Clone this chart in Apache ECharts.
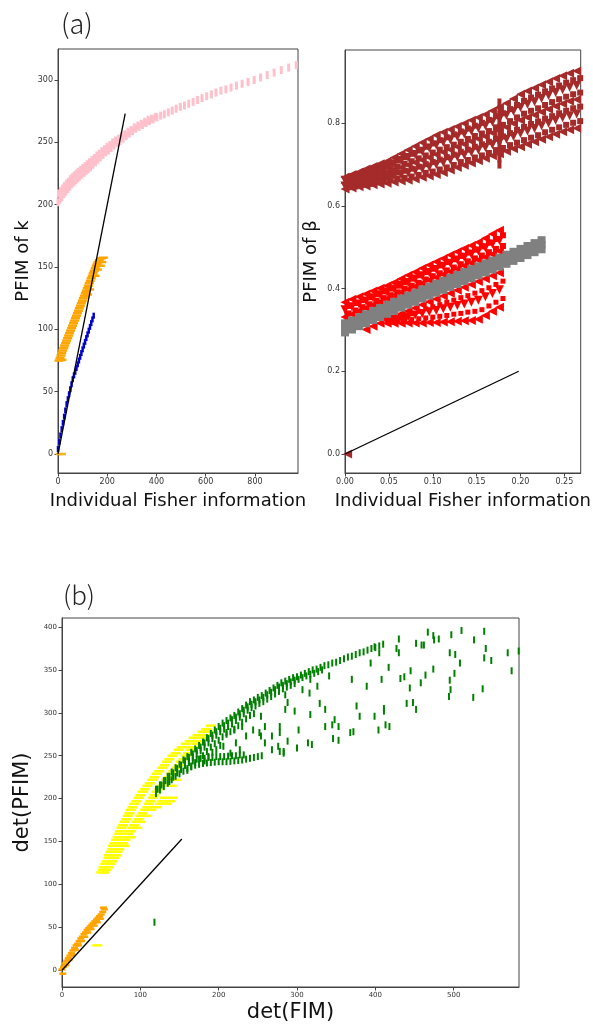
<!DOCTYPE html>
<html><head><meta charset="utf-8">
<script src="https://cdn.jsdelivr.net/npm/echarts@6/dist/echarts.min.js"></script>
<style>html,body{margin:0;padding:0;background:#fff}#c{width:593px;height:1026px}</style>
</head><body><div id="c"></div>
<script>
// ---------- Panel (a) left : PFIM of k ----------
const pinkPts = [[0,202],[8,204],[16,206],[24,208.5],[32,210.5],[40,212.5],[48,214.5],[56,216.5],[64,218],[72,219.5],[80,221],[88,222.5],[96,224],[105,225.5],[114,227],[123,228.5],[132,230],[142,232],[152,234],[162,236],[172,238],[183,240],[194,242],[205,243.5],[216,245.5],[228,247.5],[240,249.5],[252,251],[264,253],[277,255],[290,257],[303,259],[316,261],[330,262.5],[344,264],[358,265.5],[372,267],[387,268.5],[402,270],[417,271.5],[432,272.5],[448,274],[464,275.5],[480,277],[497,278.5],[514,279.5],[531,281],[549,282.5],[567,284],[585,285.5],[604,287],[623,288.5],[642,290],[662,291.5],[682,292.5],[703,294],[725,295.5],[748,297],[772,298.5],[797,300],[823,302],[850,304],[878,306],[907,308],[937,310],[968,312],
[2,209],[10,211],[18,213],[26,215],[34,217],[42,218.5],[50,220.5],[58,222],[66,223.5],[74,225],[82,226.5],[92,228],[101,229.5],[110,231],[119,232.5],[128,234],[138,236],[148,237.5],[158,239.5],[168,241],[178,243],[189,244.5],[200,246.5],[211,248],[222,250],[234,251.5],[246,253],[258,255],[271,256.5],[284,258.5],[297,260],[310,262],[324,263.5],[338,265],[352,266.5],[366,268],[380,269],[395,270.5]];
const orangeKPts = [[4,75],[16,75.5],[8,77],[12,79],[15,81],[19,83],[23,85],[27,87],[31,89],[35,91],[39,93],[43,95],[47,97],[51,99],[55,101],[59,103],[63,105],[67,107],[71,109],[75,111],[79,113],[83,115],[87,117],[91,119],[95,121],[99,123],[103,125],[107,127],[111,129],[115,131],[119,133],[123,135],[127,137],[131,139],[135,141],[139,143],[143,145],[147,147],[151,149],[155,151],[159,152.5],[163,154],[168,155.5],[176,157],[184,157.5],[120,128],[128,132],[150,143],[160,148],[172,151],[178,154]];
const blueX = [0,5,10,15,20,25,30,35,40,45,50,55,60,65,70,75,80,85,90,95,100,105,110,115,120,125,130,135,140,145];
const blueY = [4,10,15,20,25,30,35,40,44,48,52,56,60,63,66,69,72,75,78,81,84,87,90,93,96,99,102,105,108,111];
const goldPts = [[5,0],[18,0]];
const diagK = [[0,0],[273,273]];
const kXTicks = [0,200,400,600,800];
const kYTicks = [0,50,100,150,200,250,300];

// ---------- Panel (a) right : PFIM of beta ----------
const brownX   = [0,.008,.016,.024,.032,.040,.048,.056,.064,.072,.080,.088,.096,.104,.112,.120,.128,.136,.144,.152,.160,.168,.176,.184,.192,.200,.208,.216,.224,.232,.240,.248,.256,.264];
const brownXh  = [.004,.012,.020,.028,.036,.044,.052,.060,.068,.076,.084,.092,.100,.108,.116,.124,.132,.140,.148,.156,.164,.172,.180,.188,.196,.204,.212,.220,.228,.236,.244,.252,.260,.268];
const brownTop = [.669,.676,.682,.689,.695,.702,.708,.717,.726,.735,.744,.753,.762,.771,.778,.785,.792,.799,.807,.814,.821,.830,.838,.848,.859,.870,.878,.885,.893,.900,.908,.915,.921,.926];
const brownTU  = [.666,.672,.678,.684,.690,.696,.702,.710,.718,.726,.734,.743,.751,.759,.766,.773,.780,.787,.794,.801,.808,.817,.824,.834,.844,.854,.862,.869,.877,.884,.891,.898,.904,.909];
const brownUp  = [.662,.668,.673,.679,.684,.690,.695,.702,.710,.717,.724,.732,.740,.747,.754,.760,.767,.774,.781,.788,.794,.803,.810,.819,.829,.838,.846,.852,.860,.867,.874,.881,.887,.891];
const brownUM  = [.659,.664,.669,.674,.679,.684,.689,.695,.702,.708,.715,.722,.729,.736,.742,.748,.755,.762,.769,.775,.781,.790,.796,.805,.814,.823,.830,.836,.844,.851,.858,.864,.870,.874];
const brownMid = [.655,.660,.664,.668,.673,.678,.682,.688,.693,.699,.705,.711,.717,.724,.730,.736,.743,.749,.756,.762,.768,.776,.782,.790,.799,.807,.814,.820,.827,.834,.841,.847,.853,.857];
const brownML  = [.652,.656,.660,.663,.668,.672,.675,.681,.685,.690,.695,.701,.706,.712,.718,.724,.731,.736,.743,.749,.755,.762,.768,.776,.784,.791,.798,.804,.811,.817,.824,.830,.836,.840];
const brownLow = [.648,.651,.655,.658,.662,.665,.668,.673,.676,.680,.685,.690,.694,.700,.705,.711,.718,.723,.730,.735,.741,.748,.754,.761,.768,.775,.781,.787,.794,.800,.807,.813,.818,.822];
const brownLB  = [.645,.647,.651,.653,.657,.659,.662,.666,.668,.671,.675,.680,.683,.688,.693,.699,.706,.711,.717,.722,.728,.735,.740,.747,.753,.759,.765,.771,.778,.784,.790,.796,.801,.805];
const brownBot = [.641,.643,.646,.648,.651,.653,.655,.658,.660,.662,.665,.669,.672,.676,.681,.687,.693,.698,.704,.709,.715,.721,.726,.732,.738,.743,.749,.755,.761,.767,.773,.779,.784,.788];
const brownCross = [[.176,.70],[.176,.715],[.176,.73],[.176,.745],[.176,.76],[.176,.775],[.176,.79],[.176,.805],[.176,.82],[.176,.835],[.176,.85]];
const brownOrigin = [[.003,0]];
const redX  = [0,.008,.016,.024,.032,.040,.048,.056,.064,.072,.080,.088,.096,.104,.112,.120,.128,.136,.144,.152,.160,.168,.176];
const redXh = [.004,.012,.020,.028,.036,.044,.052,.060,.068,.076,.084,.092,.100,.108,.116,.124,.132,.140,.148,.156,.164,.172,.180];
const redU1 = [.367,.374,.380,.387,.394,.401,.407,.415,.424,.432,.440,.449,.457,.465,.473,.481,.489,.497,.504,.512,.522,.532,.541];
const redU12= [.358,.365,.372,.379,.386,.393,.400,.407,.416,.424,.432,.440,.448,.456,.464,.471,.479,.487,.494,.502,.511,.520,.529];
const redU2 = [.349,.356,.363,.370,.378,.385,.392,.399,.408,.415,.423,.431,.439,.446,.454,.461,.469,.476,.483,.491,.499,.508,.516];
const redU23= [.340,.347,.355,.362,.370,.377,.384,.391,.400,.407,.414,.422,.430,.437,.444,.451,.459,.466,.473,.480,.488,.496,.503];
const redU3 = [.331,.338,.346,.353,.361,.368,.376,.383,.391,.398,.405,.413,.420,.427,.434,.441,.448,.455,.462,.469,.476,.483,.490];
const redLoX = [.024,.032,.040,.048,.056,.064,.072,.080,.088,.096,.104,.112,.120,.128,.136,.144,.152,.160,.168,.176];
const redL1  = [.301,.309,.316,.324,.331,.339,.346,.353,.361,.368,.375,.382,.389,.396,.403,.410,.417,.424,.431,.438];
const redLo2X = [.048,.056,.064,.072,.080,.088,.096,.104,.112,.120,.128,.136,.144,.152,.160,.168,.176];
const redLo2Xh = [.052,.060,.068,.076,.084,.092,.100,.108,.116,.124,.132,.140,.148,.156,.164,.172,.180];
const redL12 = [.323,.328,.334,.339,.345,.351,.356,.361,.367,.372,.378,.383,.389,.395,.402,.410,.418];
const redL2  = [.321,.325,.329,.332,.336,.340,.344,.347,.351,.355,.359,.363,.367,.372,.380,.388,.397];
const redL23 = [.319,.321,.323,.325,.327,.329,.331,.333,.335,.338,.340,.343,.345,.349,.358,.367,.376];
const redL3  = [.316,.316,.316,.317,.317,.317,.318,.318,.319,.320,.321,.322,.323,.326,.335,.345,.355];
const greyX   = [0,.008,.016,.024,.032,.040,.048,.056,.064,.072,.080,.088,.096,.104,.112,.120,.128,.136,.144,.152,.160,.168,.176,.184,.192,.200,.208,.216,.224];
const greyTop = [.316,.323,.331,.338,.346,.353,.361,.368,.376,.383,.390,.398,.405,.412,.419,.426,.433,.440,.447,.454,.461,.468,.475,.482,.489,.496,.503,.510,.517];
const greyMid = [.305,.312,.320,.327,.335,.342,.350,.357,.365,.372,.379,.387,.394,.401,.408,.415,.422,.429,.436,.443,.450,.457,.464,.471,.478,.485,.492,.499,.506];
const greyBot = [.294,.301,.309,.316,.324,.331,.339,.346,.354,.361,.368,.376,.383,.390,.397,.404,.411,.418,.425,.432,.439,.446,.453,.460,.467,.474,.481,.488,.495];
const diagB = [[0,0],[0.198,0.2]];
const bXTicks = [0,0.05,0.10,0.15,0.20,0.25];
const bYTicks = [0,0.2,0.4,0.6,0.8];

// ---------- Panel (b) : det(PFIM) vs det(FIM) ----------
const orangeDetPts = [[1,-4],[0,1],[2,4],[4,8],[6,11],[8,14],[10,17],[12,20],[14,23],[16,26],[18,29],[20,31],[22,34],[24,37],[26,39],[28,42],[30,44],[32,47],[34,49],[36,51],[38,53],[40,55],[42,57],[44,59],[46,61],[48,63],[50,65],[52,68],[54,71],[5,6],[9,12],[13,18],[17,24],[21,29],[25,34],[29,39],[33,44],[37,48],[41,52],[45,56],[49,60],[53,73]];
const yellowPts = [[50,114],[54,114],[52,117],[57,117],[53,120],[60,120],[55,124],[62,124],[57,127],[64,127],[59,131],[67,131],[60,134],[69,134],[62,138],[71,138],[64,141],[73,141],[65,145],[76,145],[80,145],[67,148],[78,148],[69,152],[81,152],[71,155],[83,155],[88,155],[73,159],[85,159],[74,162],[88,162],[76,166],[90,166],[96,166],[78,169],[92,169],[80,173],[95,173],[100,173],[82,176],[98,176],[84,180],[100,180],[108,180],[86,183],[103,183],[88,187],[106,187],[114,187],[90,190],[109,190],[120,190],[92,194],[111,194],[125,194],[133,194],[95,197],[113,197],[128,197],[138,197],[98,201],[116,201],[131,201],[141,201],[100,204],[118,204],[103,208],[121,208],[106,211],[124,211],[109,215],[127,215],[140,215],[112,218],[130,218],[115,222],[133,222],[146,222],[118,225],[136,225],[121,229],[139,229],[124,232],[142,232],[128,236],[146,236],[131,239],[149,239],[134,243],[152,243],[137,246],[155,246],[141,250],[158,250],[145,253],[161,253],[149,257],[164,257],[153,260],[167,260],[158,264],[171,264],[163,267],[175,267],[168,271],[179,271],[173,274],[183,274],[179,278],[186,278],[184,281],[190,285],[45,29]];
const greenArc = [[120,211],[125,216],[130,221],[135,226],[140,231],[145,236],[150,240],[155,245],[160,249],[165,254],[170,258],[175,262],[180,266],[185,271],[190,276],[195,280],[200,284],[205,288],[210,291],[215,294],[220,297],[225,301],[230,305],[235,309],[240,313],[245,315],[250,318],[255,320],[260,323],[265,326],[270,329],[275,332],[280,335],[285,337],[290,339],[295,341],[300,342],[305,344],[310,346],[315,348],[320,350],[325,351],[330,353],[335,355],[340,356],[345,358],[350,359],[355,361],[360,363],[365,365],[370,366],[375,368],[380,370],[385,371],[390,373],[395,375],[400,376],[405,378],[410,380]];
const greenArcMid = [[122,211],[127,216],[132,221],[137,226],[142,230],[147,235],[152,239],[157,244],[162,248],[167,252],[172,256],[177,260],[182,265],[187,270],[192,274],[197,278],[202,282],[207,285],[212,288],[217,292],[222,295],[227,299],[232,303],[237,307],[242,310],[247,313],[252,315],[257,318],[262,321],[267,324],[272,327],[277,330],[282,332],[287,334],[292,336],[297,338],[302,339],[307,341],[312,343],[317,345],[322,346],[327,348],[332,350]];
const greenArc2 = [[137,220],[142,225],[147,230],[152,234],[157,239],[162,243],[167,248],[172,252],[177,256],[182,260],[187,265],[192,270],[197,274],[202,278],[207,281],[212,284],[217,287],[222,291],[227,295],[232,299],[237,303],[242,306],[247,308],[252,311],[257,313],[262,316],[267,319],[272,322],[277,325],[282,328],[287,330],[292,332],[297,334]];
const greenArc3 = [[160,233],[165,238],[170,242],[175,246],[180,250],[185,255],[190,260],[195,264],[200,268],[205,272],[210,275],[215,278],[220,281],[225,285],[230,289],[235,293],[240,297],[245,299],[182,244],[187,249],[192,254],[197,257],[202,262]];
const greenLower = [[120,206],[125,210],[130,214],[135,218],[140,222],[145,226],[150,229],[155,232],[160,235],[165,237],[170,239],[175,240],[180,241],[185,241.5],[190,242],[195,242.5],[200,243],[205,243],[210,243],[215,243.5],[220,244],[225,244.5],[230,245],[235,246],[240,247],[245,248],[250,249],[255,250],[152,236],[157,239],[162,242],[167,244],[172,246],[177,247],[182,247],[187,248],[192,248],[197,249],[202,249],[207,249],[212,249.5],[217,250],[222,250],[227,251],[232,251]];
const greenScatter = [[430,386],[427,375],[430,370],[452,381],[459,379],[462,379],[467,394],[474,390],[475,385],[481,386],[497,391],[510,396],[526,385],[539,395],[541,375],[539,364],[548,361],[569,370],[574,349],[583,372],[417,353],[408,339],[432,340],[437,342],[445,349],[444,329],[458,335],[464,344],[474,351],[495,370],[502,368],[508,358],[501,346],[495,338],[496,327],[494,319],[525,318],[537,328],[411,305],[440,311],[448,312],[452,304],[404,280],[411,302],[413,286],[418,284],[399,296],[394,358],[399,377],[405,370],[389,331],[376,308],[380,296],[370,339],[372,278],[368,277],[353,284],[345,286],[336,284],[346,270],[353,268],[348,292],[336,304],[341,343],[326,331],[329,311],[317,339],[316,323],[307,327],[317,298],[314,265],[319,263],[300,259],[302,280],[297,302],[288,312],[285,321],[285,304],[278,284],[278,277],[288,267],[283,255],[276,261],[268,273],[259,284],[254,296],[252,277],[244,280],[235,273],[230,284],[222,265],[220,280],[210,277],[206,261],[215,253],[227,257],[259,265],[268,257],[278,255],[283,253],[254,273],[118,56]];
const diagDet = [[0,0],[153,153]];
const dXTicks = [0,100,200,300,400,500];
const dYTicks = [0,50,100,150,200,250,300,350,400];

function pairs(xs, ys){ return xs.map((x,i)=>[x, ys[i]]); }

const FONT = 'DejaVu Sans';
function axisCommon(gi, min, max, ticks, fs, fmt, name, nameGap, nameSize){
  return {
    type:'value', gridIndex:gi, min:min, max:max,
    axisLine:{show:true, onZero:false, lineStyle:{color:'#444', width:1}},
    axisTick:{show:true, length:3.5, lineStyle:{color:'#444', width:1}, customValues:ticks},
    axisLabel:{fontSize:fs, color:'#333', fontFamily:FONT, margin:5, customValues:ticks,
               formatter: fmt},
    splitLine:{show:false},
    name:name, nameLocation:'middle', nameGap:nameGap,
    nameTextStyle:{fontSize:nameSize, color:'#111', fontFamily:FONT}
  };
}
function sc(xi, data, color, size, symbol, rot){
  return {type:'scatter', xAxisIndex:xi, yAxisIndex:xi, data:data, symbol:symbol||'rect',
          symbolSize:size, symbolRotate:rot||0, itemStyle:{color:color, opacity:1},
          silent:true, animation:false};
}
function ln(xi, data){
  return {type:'line', xAxisIndex:xi, yAxisIndex:xi, data:data, showSymbol:false, z:5,
          lineStyle:{color:'#000', width:1.3}, silent:true, animation:false};
}
const f2 = v => v.toFixed(2), f1 = v => v.toFixed(1), f0 = v => String(v);
const BR = '#a52a2a', RD = '#ff0000', GR = '#808080', GN = '#008000';

const chart = echarts.init(document.getElementById('c'), null, {renderer:'canvas'});
chart.setOption({
  animation:false,
  backgroundColor:'#fff',
  title:[
    {text:'(a)', left:61, top:10, padding:0, textStyle:{fontSize:27, fontWeight:300, color:'#222', fontFamily:'Noto Sans CJK JP'}},
    {text:'(b)', left:63, top:582, padding:0, textStyle:{fontSize:26, fontWeight:300, color:'#222', fontFamily:'Noto Sans CJK JP'}}
  ],
  grid:[
    {left:58, top:49, width:240, height:424, show:true, borderColor:'#444', borderWidth:1},
    {left:345, top:50, width:239, height:423, show:true, borderColor:'#444', borderWidth:1},
    {left:62, top:618, width:457, height:369, show:true, borderColor:'#444', borderWidth:1}
  ],
  xAxis:[
    axisCommon(0, 0, 975, kXTicks, 8, f0, 'Individual Fisher information', 19, 18),
    axisCommon(1, 0, 0.2686, bXTicks, 8, f2, 'Individual Fisher information', 19, 18),
    axisCommon(2, 0, 583.4, dXTicks, 7, f0, 'det(FIM)', 15, 21)
  ],
  yAxis:[
    axisCommon(0, -15.2, 324.9, kYTicks, 8, f0, 'PFIM of k', 26, 18),
    axisCommon(1, -0.046, 0.977, bYTicks, 8, f1, 'PFIM of β', 25, 18),
    axisCommon(2, -19.5, 410.5, dYTicks, 7, f0, 'det(PFIM)', 18, 21)
  ],
  series:[
    sc(0, pinkPts, '#ffc0cb', [3,8]),
    sc(0, orangeKPts, '#ffa500', [9,2.5]),
    sc(0, pairs(blueX, blueY), '#0000cd', [2.5,6]),
    sc(0, goldPts, '#eeb422', [7,2.5]),
    ln(0, diagK),

    sc(1, pairs(brownXh, brownTU), BR, [6,6]),
    sc(1, pairs(brownXh, brownUM), BR, [6,6]),
    sc(1, pairs(brownXh, brownML), BR, [6,6]),
    sc(1, pairs(brownXh, brownLB), BR, [6,6]),
    sc(1, pairs(brownX, brownBot), BR, 9, 'triangle', 90),
    sc(1, pairs(brownX, brownLow), BR, 9, 'triangle', 180),
    sc(1, pairs(brownX, brownMid), BR, 9, 'triangle', 90),
    sc(1, pairs(brownX, brownUp), BR, 9, 'triangle', 180),
    sc(1, pairs(brownX, brownTop), BR, 9, 'triangle', 90),
    sc(1, brownCross, BR, [4,8]),
    sc(1, pairs(redXh, redU12), RD, [6,6]),
    sc(1, pairs(redXh, redU23), RD, [6,6]),
    sc(1, pairs(redLo2Xh, redL12), RD, [5,5]),
    sc(1, pairs(redLo2Xh, redL23), RD, [5,5]),
    sc(1, pairs(redX, redU1), RD, 9, 'triangle', 90),
    sc(1, pairs(redX, redU2), RD, 9, 'triangle', 180),
    sc(1, pairs(redX, redU3), RD, 9, 'triangle', 90),
    sc(1, pairs(redLoX, redL1), RD, 9, 'triangle', 90),
    sc(1, pairs(redLo2X, redL2), RD, 9, 'triangle', 180),
    sc(1, pairs(redLo2X, redL3), RD, 9, 'triangle', 90),
    sc(1, pairs(greyX, greyTop), GR, 8),
    sc(1, pairs(greyX, greyMid), GR, 8),
    sc(1, pairs(greyX, greyBot), GR, 8),
    ln(1, diagB),
    sc(1, brownOrigin, BR, 9, 'triangle', 90),

    sc(2, orangeDetPts, '#ffa500', [7,2.5]),
    sc(2, yellowPts, '#ffff00', [10,2.5]),
    sc(2, greenLower, GN, [2,7]),
    sc(2, greenArc3, GN, [2,7]),
    sc(2, greenArc2, GN, [2,7]),
    sc(2, greenArcMid, GN, [2,7]),
    sc(2, greenArc, GN, [2,7]),
    sc(2, greenScatter, GN, [2,7]),
    ln(2, diagDet)
  ]
});
</script></body></html>
